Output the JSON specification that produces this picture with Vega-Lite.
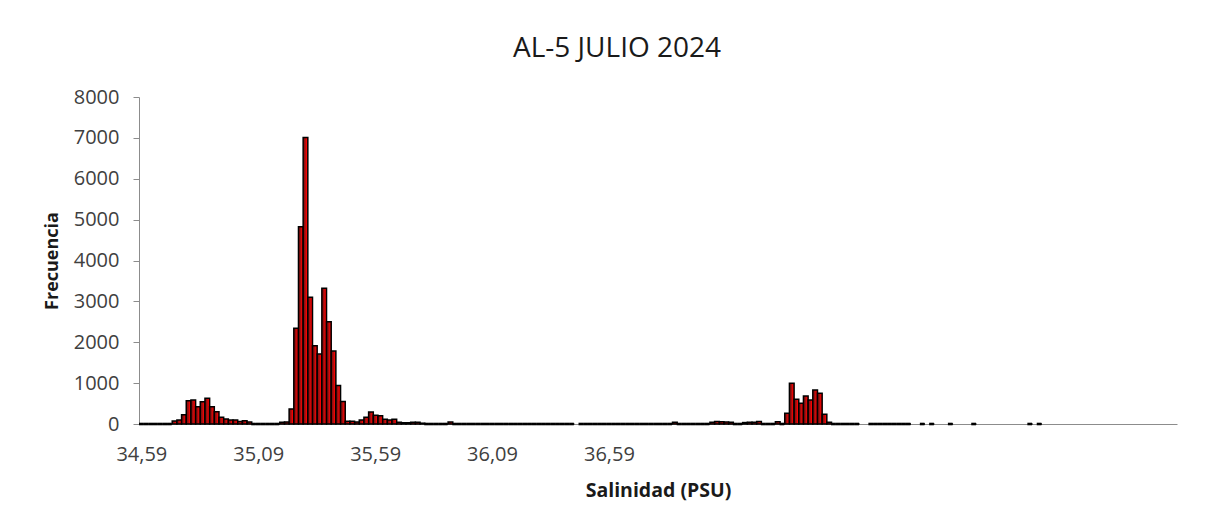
{
  "$schema": "https://vega.github.io/schema/vega-lite/v6.json",
  "width": 1038,
  "height": 327,
  "autosize": "none",
  "padding": {"left": 139, "top": 97, "right": 55, "bottom": 100},
  "background": "white",
  "title": {"text": "AL-5 JULIO 2024", "font": "Open Sans", "fontSize": 28, "fontWeight": "normal", "color": "#1a1a1a", "anchor": "middle", "frame": "group", "dx": -41, "offset": 2, "baseline": "alphabetic"},
  "data": {"values": [
    {"a":34.58,"b":34.60,"f":0},{"a":34.60,"b":34.62,"f":0},{"a":34.62,"b":34.64,"f":0},{"a":34.64,"b":34.66,"f":0},
    {"a":34.66,"b":34.68,"f":0},{"a":34.68,"b":34.70,"f":0},{"a":34.70,"b":34.72,"f":0},{"a":34.72,"b":34.74,"f":73},
    {"a":34.74,"b":34.76,"f":98},{"a":34.76,"b":34.78,"f":228},{"a":34.78,"b":34.80,"f":570},{"a":34.80,"b":34.82,"f":587},
    {"a":34.82,"b":34.84,"f":424},{"a":34.84,"b":34.86,"f":546},{"a":34.86,"b":34.88,"f":628},{"a":34.88,"b":34.90,"f":424},
    {"a":34.90,"b":34.92,"f":300},{"a":34.92,"b":34.94,"f":163},{"a":34.94,"b":34.96,"f":122},{"a":34.96,"b":34.98,"f":98},
    {"a":34.98,"b":35.00,"f":98},{"a":35.00,"b":35.02,"f":60},{"a":35.02,"b":35.04,"f":80},{"a":35.04,"b":35.06,"f":50},
    {"a":35.06,"b":35.08,"f":0},{"a":35.08,"b":35.10,"f":0},{"a":35.10,"b":35.12,"f":0},{"a":35.12,"b":35.14,"f":0},
    {"a":35.14,"b":35.16,"f":0},{"a":35.16,"b":35.18,"f":0},{"a":35.18,"b":35.20,"f":40},{"a":35.20,"b":35.22,"f":50},
    {"a":35.22,"b":35.24,"f":370},{"a":35.24,"b":35.26,"f":2340},{"a":35.26,"b":35.28,"f":4825},{"a":35.28,"b":35.30,"f":7010},
    {"a":35.30,"b":35.32,"f":3100},{"a":35.32,"b":35.34,"f":1915},{"a":35.34,"b":35.36,"f":1710},{"a":35.36,"b":35.38,"f":3320},
    {"a":35.38,"b":35.40,"f":2500},{"a":35.40,"b":35.42,"f":1785},{"a":35.42,"b":35.44,"f":940},{"a":35.44,"b":35.46,"f":550},
    {"a":35.46,"b":35.48,"f":70},{"a":35.48,"b":35.50,"f":70},{"a":35.50,"b":35.52,"f":50},{"a":35.52,"b":35.54,"f":98},
    {"a":35.54,"b":35.56,"f":163},{"a":35.56,"b":35.58,"f":293},{"a":35.58,"b":35.60,"f":212},{"a":35.60,"b":35.62,"f":200},
    {"a":35.62,"b":35.64,"f":114},{"a":35.64,"b":35.66,"f":98},{"a":35.66,"b":35.68,"f":114},{"a":35.68,"b":35.70,"f":40},
    {"a":35.70,"b":35.72,"f":30},{"a":35.72,"b":35.74,"f":30},{"a":35.74,"b":35.76,"f":40},{"a":35.76,"b":35.78,"f":40},
    {"a":35.78,"b":35.80,"f":20},{"a":35.80,"b":35.82,"f":0},{"a":35.82,"b":35.84,"f":0},{"a":35.84,"b":35.86,"f":0},
    {"a":35.86,"b":35.88,"f":0},{"a":35.88,"b":35.90,"f":0},{"a":35.90,"b":35.92,"f":50},{"a":35.92,"b":35.94,"f":0},
    {"a":35.94,"b":35.96,"f":0},{"a":35.96,"b":35.98,"f":0},{"a":35.98,"b":36.00,"f":0},{"a":36.00,"b":36.02,"f":0},
    {"a":36.02,"b":36.04,"f":0},{"a":36.04,"b":36.06,"f":0},{"a":36.06,"b":36.08,"f":0},{"a":36.08,"b":36.10,"f":0},
    {"a":36.10,"b":36.12,"f":0},{"a":36.12,"b":36.14,"f":0},{"a":36.14,"b":36.16,"f":0},{"a":36.16,"b":36.18,"f":0},
    {"a":36.18,"b":36.20,"f":0},{"a":36.20,"b":36.22,"f":0},{"a":36.22,"b":36.24,"f":0},{"a":36.24,"b":36.26,"f":0},
    {"a":36.26,"b":36.28,"f":0},{"a":36.28,"b":36.30,"f":0},{"a":36.30,"b":36.32,"f":0},{"a":36.32,"b":36.34,"f":0},
    {"a":36.34,"b":36.36,"f":0},{"a":36.36,"b":36.38,"f":0},{"a":36.38,"b":36.40,"f":0},{"a":36.40,"b":36.42,"f":0},
    {"a":36.42,"b":36.44,"f":0},
    {"a":36.46,"b":36.48,"f":0},{"a":36.48,"b":36.50,"f":0},{"a":36.50,"b":36.52,"f":0},{"a":36.52,"b":36.54,"f":0},
    {"a":36.54,"b":36.56,"f":0},{"a":36.56,"b":36.58,"f":0},{"a":36.58,"b":36.60,"f":0},{"a":36.60,"b":36.62,"f":0},
    {"a":36.62,"b":36.64,"f":0},{"a":36.64,"b":36.66,"f":0},{"a":36.66,"b":36.68,"f":0},{"a":36.68,"b":36.70,"f":0},
    {"a":36.70,"b":36.72,"f":0},{"a":36.72,"b":36.74,"f":0},{"a":36.74,"b":36.76,"f":0},{"a":36.76,"b":36.78,"f":0},
    {"a":36.78,"b":36.80,"f":0},{"a":36.80,"b":36.82,"f":0},{"a":36.82,"b":36.84,"f":0},{"a":36.84,"b":36.86,"f":0},
    {"a":36.86,"b":36.88,"f":45},{"a":36.88,"b":36.90,"f":0},{"a":36.90,"b":36.92,"f":0},{"a":36.92,"b":36.94,"f":0},
    {"a":36.94,"b":36.96,"f":0},{"a":36.96,"b":36.98,"f":0},{"a":36.98,"b":37.00,"f":0},{"a":37.00,"b":37.02,"f":0},
    {"a":37.02,"b":37.04,"f":40},{"a":37.04,"b":37.06,"f":60},{"a":37.06,"b":37.08,"f":55},{"a":37.08,"b":37.10,"f":50},
    {"a":37.10,"b":37.12,"f":45},{"a":37.12,"b":37.14,"f":0},{"a":37.14,"b":37.16,"f":0},{"a":37.16,"b":37.18,"f":35},
    {"a":37.18,"b":37.20,"f":40},{"a":37.20,"b":37.22,"f":40},{"a":37.22,"b":37.24,"f":60},{"a":37.24,"b":37.26,"f":0},
    {"a":37.26,"b":37.28,"f":0},{"a":37.28,"b":37.30,"f":0},{"a":37.30,"b":37.32,"f":55},{"a":37.32,"b":37.34,"f":0},
    {"a":37.34,"b":37.36,"f":260},{"a":37.36,"b":37.38,"f":995},{"a":37.38,"b":37.40,"f":603},{"a":37.40,"b":37.42,"f":505},
    {"a":37.42,"b":37.44,"f":685},{"a":37.44,"b":37.46,"f":587},{"a":37.46,"b":37.48,"f":831},{"a":37.48,"b":37.50,"f":750},
    {"a":37.50,"b":37.52,"f":237},{"a":37.52,"b":37.54,"f":40},{"a":37.54,"b":37.56,"f":0},{"a":37.56,"b":37.58,"f":0},
    {"a":37.58,"b":37.60,"f":0},{"a":37.60,"b":37.62,"f":0},{"a":37.62,"b":37.64,"f":0},{"a":37.64,"b":37.66,"f":0},
    {"a":37.70,"b":37.72,"f":0},{"a":37.72,"b":37.74,"f":0},{"a":37.74,"b":37.76,"f":0},{"a":37.76,"b":37.78,"f":0},
    {"a":37.78,"b":37.80,"f":0},{"a":37.80,"b":37.82,"f":0},{"a":37.82,"b":37.84,"f":0},{"a":37.84,"b":37.86,"f":0},
    {"a":37.86,"b":37.88,"f":0},
    {"a":37.92,"b":37.94,"f":0},{"a":37.96,"b":37.98,"f":0},{"a":38.04,"b":38.06,"f":0},{"a":38.14,"b":38.16,"f":0},
    {"a":38.38,"b":38.40,"f":0},{"a":38.42,"b":38.44,"f":0}
  ]},
  "layer": [
    {
      "mark": {
        "type": "bar",
        "orient": "vertical",
        "binSpacing": 0,
        "fill": {"gradient": "linear", "x1": 0, "y1": 0, "x2": 1, "y2": 0, "stops": [
          {"offset": 0, "color": "#7a0a0a"},
          {"offset": 0.45, "color": "#a31010"},
          {"offset": 0.75, "color": "#ff0000"},
          {"offset": 1, "color": "#e00000"}
        ]},
        "stroke": "#000000",
        "strokeWidth": 1.5
      },
      "encoding": {
        "x": {
          "field": "a", "type": "quantitative", "bin": {"binned": true},
          "scale": {"domain": [34.58, 39.02], "nice": false, "zero": false},
          "axis": {
            "values": [34.59, 35.09, 35.59, 36.09, 36.59],
            "labelExpr": "replace(format(datum.value, '.2f'), '.', ',')",
            "ticks": false, "grid": false,
            "domainColor": "#8c8c8c", "domainWidth": 1,
            "labelFont": "Open Sans", "labelFontSize": 20, "labelColor": "#404040",
            "labelPadding": 20, "labelOverlap": false, "labelFlush": false,
            "title": "Salinidad (PSU)", "titleFont": "Open Sans", "titleFontSize": 19.5,
            "titleFontWeight": "bold", "titleColor": "#1a1a1a", "titlePadding": 17
          }
        },
        "x2": {"field": "b"},
        "y": {
          "field": "f", "type": "quantitative",
          "scale": {"domain": [0, 8000], "nice": false},
          "axis": {
            "values": [0, 1000, 2000, 3000, 4000, 5000, 6000, 7000, 8000],
            "format": "d", "grid": false,
            "tickSize": 6, "tickColor": "#8c8c8c", "domainColor": "#8c8c8c",
            "labelFont": "Open Sans", "labelFontSize": 20, "labelColor": "#404040", "labelPadding": 14,
            "title": "Frecuencia", "titleFont": "Open Sans", "titleFontSize": 18,
            "titleFontWeight": "bold", "titleColor": "#1a1a1a", "titlePadding": 12
          }
        }
      }
    },
    {
      "transform": [{"filter": "datum.f == 0"}],
      "mark": {"type": "rule", "color": "#000000", "strokeWidth": 2.6},
      "encoding": {
        "x": {"field": "a", "type": "quantitative"},
        "x2": {"field": "b"},
        "y": {"field": "f", "type": "quantitative"}
      }
    }
  ],
  "config": {"view": {"stroke": null}}
}
